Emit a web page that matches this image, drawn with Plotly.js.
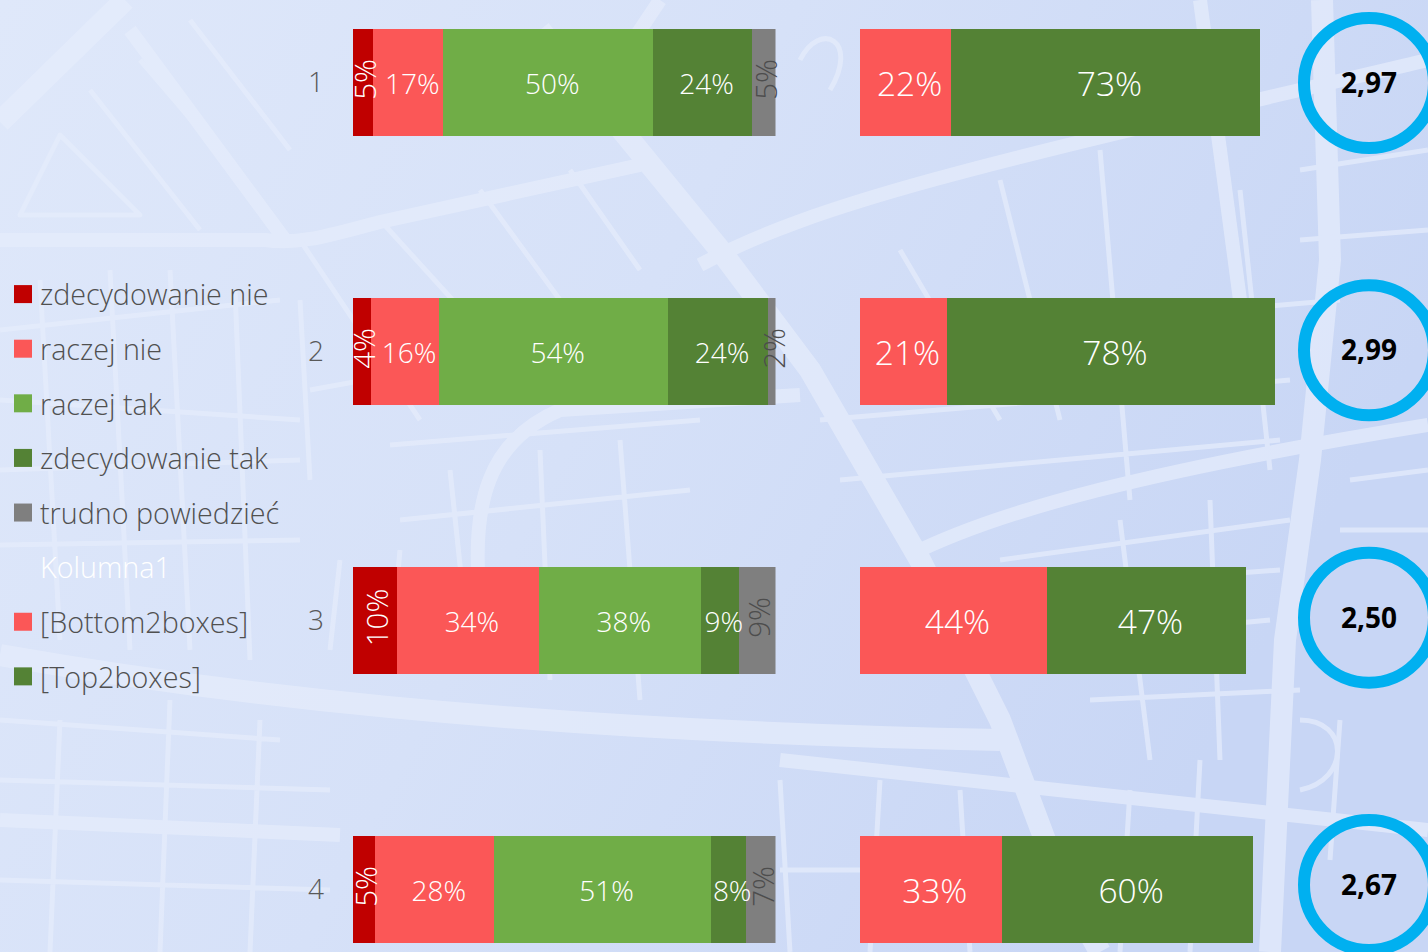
<!DOCTYPE html>
<html><head><meta charset="utf-8">
<script src="https://cdn.plot.ly/plotly-3.0.1.min.js"></script>
<style>
html,body{margin:0;padding:0;width:1428px;height:952px;overflow:hidden;background:#d8e3f8}
#bg{position:absolute;left:0;top:0}
#chart{position:absolute;left:0;top:0;width:1428px;height:952px}
</style></head><body>
<svg id="bg" width="1428" height="952" viewBox="0 0 1428 952">
<defs><linearGradient id="g" x1="0" y1="0" x2="1" y2="0.35"><stop offset="0" stop-color="#dfe8fa"/><stop offset="0.5" stop-color="#d6e1f8"/><stop offset="1" stop-color="#c8d6f5"/></linearGradient></defs>
<rect width="1428" height="952" fill="url(#g)"/>
<g fill="none" stroke="#e6edfc" stroke-linecap="butt" stroke-linejoin="round" opacity="0.72">
<g stroke-width="22">
<path d="M0,122 L125,0"/>
<path d="M540,30 L720,250 L810,370 L920,560 L1000,720 L1060,880 L1100,952"/>
<path d="M0,655 C200,690 500,730 1000,740"/>
<path d="M1322,0 L1330,260 L1310,460 L1285,640 L1270,952"/>
</g>
<g stroke-width="14">
<path d="M0,240 L265,240 C300,245 330,235 380,222 L640,165"/>
<path d="M700,265 C820,200 1000,160 1428,60"/>
<path d="M910,555 C1000,510 1150,470 1428,425"/>
<path d="M1200,0 L1240,300"/>
<path d="M130,30 L285,240"/>
<path d="M480,600 C470,500 490,440 560,410 L800,395"/>
<path d="M0,820 L340,835 M780,760 L1428,830"/>
<path d="M660,0 L600,90"/>
</g>
<g stroke-width="5">
<path d="M60,135 L140,215 L20,215 Z"/>
<path d="M90,90 L200,230 M140,60 L260,200 M190,20 L290,150"/>
<path d="M300,240 L420,420 M380,220 L480,330 M480,190 L560,300 M570,170 L640,270"/>
<path d="M0,330 L280,300 M0,400 L300,420 M0,470 L300,460 M0,545 L300,540"/>
<path d="M40,280 L60,640 M110,270 L130,650 M170,270 L190,650 M235,290 L250,660"/>
<path d="M300,300 L310,480 M310,390 L420,370"/>
<path d="M390,445 L700,420 M400,520 L690,490 M340,560 L330,650 M400,550 L390,660 M450,470 L470,660 M540,450 L550,680 M620,440 L640,700"/>
<path d="M820,420 L1290,380 M840,480 L1280,440 M880,340 L1340,300 M900,250 L1000,420 M1000,180 L1060,420 M1100,150 L1130,500 M1240,190 L1270,470 M1000,560 L1290,520"/>
<path d="M1010,590 L1280,570 M1060,640 L1270,620 M1090,700 L1300,690 M1120,520 L1150,760 M1210,500 L1220,760"/>
<path d="M0,720 L280,740 M0,780 L330,790 M0,880 L330,890 M60,720 L50,952 M170,700 L160,952 M260,720 L250,952"/>
<path d="M780,780 L790,952 M880,780 L870,952 M960,790 L970,952 M780,870 L1040,870 M1130,790 L1120,952 M1200,760 L1190,952 M1340,720 L1330,860"/>
<path d="M800,60 C820,20 860,40 830,90 M1300,170 L1428,150 M1300,240 L1428,230 M1350,480 L1428,470 M1340,530 L1428,530 M1300,720 C1350,720 1350,780 1300,790"/>
</g></g></svg>
<div id="chart"></div>
<script>
var categories = ['1','2','3','4'];
var detailNames = ['zdecydowanie nie','raczej nie','raczej tak','zdecydowanie tak','trudno powiedzieć'];
var zdecydowanieNie = [4.8, 4.2, 10.4, 5.3];
var raczejNie       = [16.6, 16.2, 33.6, 28.1];
var raczejTak       = [49.6, 54.2, 38.3, 51.3];
var zdecydowanieTak = [23.5, 23.6, 9.0, 8.2];
var trudnoPowiedziec= [5.5, 1.8, 8.7, 7.1];
var detailLabels = [
  ['5%','4%','10%','5%'],
  ['17%','16%','34%','28%'],
  ['50%','54%','38%','51%'],
  ['24%','24%','9%','8%'],
  ['5%','2%','9%','7%']
];
var bottom2boxes = [21.7, 20.7, 44.5, 33.7];
var top2boxes    = [73.5, 78.1, 47.4, 59.8];
var bottomLabels = ['22%','21%','44%','33%'];
var topLabels    = ['73%','78%','47%','60%'];
var scores = ['2,97','2,99','2,50','2,67'];
var colors = ['#C00000','#FB5757','#70AD47','#548235','#7F7F7F'];
var FONT = '"Open Sans", sans-serif';

var series = [zdecydowanieNie, raczejNie, raczejTak, zdecydowanieTak, trudnoPowiedziec];
var traces = series.map(function(v,i){
  var rotated=(i===0||i===4);
  return {type:'bar',orientation:'h',name:detailNames[i],y:categories,x:v,xaxis:'x',yaxis:'y',
    marker:{color:colors[i]},text:detailLabels[i],textposition:'inside',insidetextanchor:'middle',
    textangle:rotated?-90:0,constraintext:'none',cliponaxis:false,
    textfont:{family:FONT,size:rotated?29.5:28,weight:300,color:i===4?'#4d4d4d':'#ffffff'},
    legendgroup:'g'+i,hoverinfo:'skip'};
});
traces.push({type:'bar',orientation:'h',name:'<span style="color:#ffffff">Kolumna1</span>',y:categories,x:[0,0,0,0],xaxis:'x2',yaxis:'y',
  marker:{color:'rgba(0,0,0,0)'},legendgroup:'g5',hoverinfo:'skip'});
traces.push({type:'bar',orientation:'h',name:'[Bottom2boxes]',y:categories,x:bottom2boxes,xaxis:'x2',yaxis:'y',
  marker:{color:colors[1]},text:bottomLabels,textposition:'inside',insidetextanchor:'middle',textangle:0,constraintext:'none',
  textfont:{family:FONT,size:33.5,weight:300,color:'#ffffff'},legendgroup:'g6',hoverinfo:'skip'});
traces.push({type:'bar',orientation:'h',name:'[Top2boxes]',y:categories,x:top2boxes,xaxis:'x2',yaxis:'y',
  marker:{color:colors[3]},text:topLabels,textposition:'inside',insidetextanchor:'middle',textangle:0,constraintext:'none',
  textfont:{family:FONT,size:33.5,weight:300,color:'#ffffff'},legendgroup:'g7',hoverinfo:'skip'});
traces.push({type:'scatter',mode:'markers+text',x:[0,0,0,0],y:categories,xaxis:'x3',yaxis:'y3',showlegend:false,
  cliponaxis:false,text:scores,textposition:'middle center',
  textfont:{family:FONT,size:28,weight:700,color:'#000000'},
  marker:{symbol:'circle',size:130,color:'rgba(0,0,0,0)',line:{color:'#00B0F0',width:12}},hoverinfo:'skip'});

var W=1428;
var layout={
  width:1428,height:952,margin:{l:0,r:0,t:0,b:0,pad:0},
  paper_bgcolor:'rgba(0,0,0,0)',plot_bgcolor:'rgba(0,0,0,0)',
  barmode:'stack',bargap:0.602,showlegend:true,hovermode:false,
  font:{family:FONT,color:'#595959'},
  xaxis:{domain:[353/W,775.5/W],range:[0,100],visible:false,fixedrange:true},
  xaxis2:{domain:[860/W,1280/W],range:[0,100],visible:false,fixedrange:true,anchor:'y'},
  xaxis3:{domain:[1280/W,1],range:[-89,59],visible:false,fixedrange:true,anchor:'y3'},
  yaxis:{type:'category',categoryorder:'array',categoryarray:categories,domain:[0,1],
    range:[3.2323,-0.3067],showgrid:false,zeroline:false,showline:false,ticks:'',
    ticklabelstandoff:28,tickfont:{family:FONT,size:28,weight:300,color:'#595959'},fixedrange:true},
  yaxis3:{type:'category',categoryorder:'array',categoryarray:categories,domain:[0,1],anchor:'x3',
    range:[3.2507,-0.3105],visible:false,fixedrange:true},
  legend:{x:0,xanchor:'left',y:0.7175,yanchor:'top',bgcolor:'rgba(0,0,0,0)',borderwidth:0,
    traceorder:'grouped',tracegroupgap:14.3,itemwidth:30,itemclick:false,itemdoubleclick:false,
    font:{family:FONT,size:28.7,weight:300,color:'#505050'}}
};
Plotly.newPlot('chart',traces,layout,{displayModeBar:false,responsive:false}).then(function(gd){
  gd.querySelectorAll('.legend .legendpoints path').forEach(function(p){
    p.setAttribute('d','M12,9H-6V-9H12Z');
    p.style.strokeWidth='0';
  });
  gd.querySelectorAll('.bars text.bartext').forEach(function(t){
    var tr=t.getAttribute('transform')||'';
    var rotated=tr.indexOf('rotate')>=0;
    t.setAttribute('transform',(rotated?'translate(1.5,-3) ':'translate(4,0) ')+tr);
  });
  gd.querySelectorAll('.scatterlayer .textpoint text').forEach(function(t){
    t.setAttribute('y',parseFloat(t.getAttribute('y'))+3);
  });
  // lift the labels above all bars of the panel, so overflowing labels stay readable
  var bl=gd.querySelector('.subplot.xy .barlayer');
  if(bl){
    var labels=bl.querySelectorAll('text.bartext');
    var holder=document.createElementNS('http://www.w3.org/2000/svg','g');
    bl.appendChild(holder);
    labels.forEach(function(t){ holder.appendChild(t); });
  }
});
</script>
</body></html>
